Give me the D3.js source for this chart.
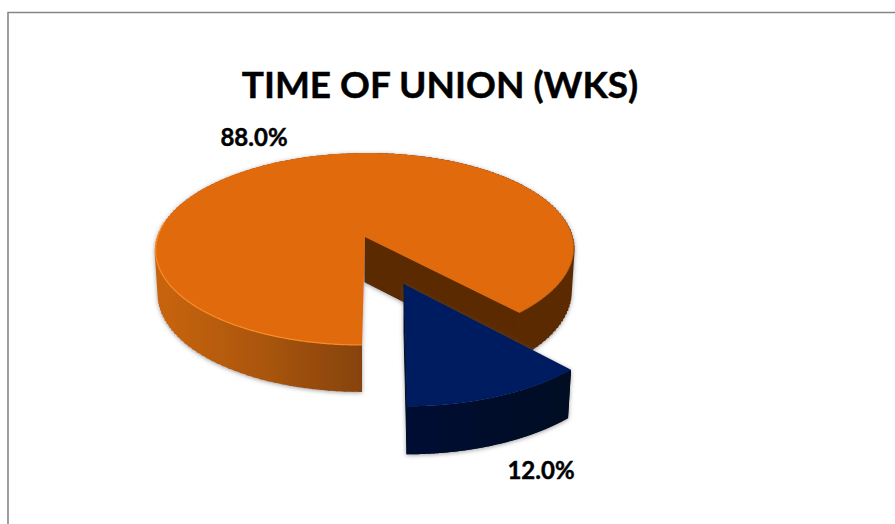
<!DOCTYPE html>
<html>
<head>
<meta charset="utf-8">
<script src="https://cdn.jsdelivr.net/npm/d3@7/dist/d3.min.js"></script>
<style>
  html, body { margin: 0; padding: 0; background: #fff; }
  svg { display: block; }
  text { font-family: Lato, "Open Sans", sans-serif; font-weight: 700; fill: #000; stroke: #000; stroke-width: 0.45; }
</style>
</head>
<body>
<svg id="chart" width="895" height="524"></svg>
<script>
// Share of unions by duration, drawn as an exploded 3D pie.
const chartTitle = "TIME OF UNION (WKS)";
const sliceKeys = ["long", "short"];
const sliceValues = [88, 12];

const svg = d3.select("#chart");
const defs = svg.append("defs");

// Soft shadow shared by both slices
const shadow = defs.append("filter").attr("id", "soft")
  .attr("x", "-10%").attr("y", "-10%").attr("width", "120%").attr("height", "120%");
shadow.append("feDropShadow")
  .attr("dx", 0).attr("dy", 1).attr("stdDeviation", 2.2)
  .attr("flood-color", "#555").attr("flood-opacity", 0.55);

function sideGradient(id, stops) {
  const g = defs.append("linearGradient").attr("id", id)
    .attr("gradientUnits", "userSpaceOnUse")
    .attr("x1", 150).attr("x2", 580).attr("y1", 0).attr("y2", 0);
  stops.forEach(([x, c]) => g.append("stop")
    .attr("offset", (x - 150) / 430).attr("stop-color", c));
}
sideGradient("orangeSide", [[150, "#cb650a"], [260, "#ab5607"], [362, "#864309"],
                            [364, "#5c2c02"], [580, "#5c2c02"]]);
sideGradient("navySide", [[400, "#001033"], [480, "#000e2c"], [575, "#000a22"]]);

// Perspective projection of a unit-disc point onto the page: the disc's near
// edge is larger than its far edge, so the apex sits above the ellipse centre.
const persp = 0.125;
function projector({ x0, y0, bx, ay, shear }) {
  const project = angle => {
    const u = Math.sin(angle), v = -Math.cos(angle), w = 1 - persp * v;
    return [x0 + (bx * u + shear * v) / w, y0 + ay * v / w];
  };
  project.apex = [x0, y0];
  return project;
}

const faces = {
  long: {
    top: projector({ x0: 365, y0: 237, bx: 207.4, ay: 94.5, shear: -2.6 }),
    bottom: projector({ x0: 365, y0: 282, bx: 204.4, ay: 96.2, shear: -2.6 }),
    topFill: "#e16b08", sideFill: "url(#orangeSide)", wallFill: "#5c2c02"
  },
  short: {
    top: projector({ x0: 404, y0: 284, bx: 219, ay: 107, shear: 2.6 }),
    bottom: projector({ x0: 404, y0: 332, bx: 215, ay: 107, shear: 2.6 }),
    topFill: "#001f60", sideFill: "url(#navySide)", wallFill: "#000e2c"
  }
};

const pie = d3.pie().sort(null).startAngle(Math.PI).endAngle(3 * Math.PI);
const arcs = pie(sliceValues);
const line = d3.line();
const sweep = (a, b, project) =>
  d3.range(0, 1.0001, 1 / 160).map(t => project(a + (b - a) * t));

arcs.forEach((d, i) => {
  const f = faces[sliceKeys[i]];
  const g = svg.append("g").attr("filter", "url(#soft)");
  const topArc = sweep(d.startAngle, d.endAngle, f.top);
  const bottomArc = sweep(d.startAngle, d.endAngle, f.bottom);
  const apexTop = f.top.apex, apexBottom = f.bottom.apex;

  // Cut wall running back to the centre, seen only on the larger slice
  g.append("path")
    .attr("d", line([apexTop, topArc[topArc.length - 1], bottomArc[bottomArc.length - 1], apexBottom]) + "Z")
    .attr("fill", f.wallFill)
    .attr("stroke", f.wallFill).attr("stroke-width", 1);

  // Outer rim of the slice
  g.append("path")
    .attr("d", line(topArc.concat(bottomArc.slice().reverse())) + "Z")
    .attr("fill", f.sideFill);

  // Generator lines fill the silhouette where the rim turns out of view
  const inset = 0.006;
  const ruleTop = sweep(d.startAngle + inset, d.endAngle - inset, f.top);
  const ruleBottom = sweep(d.startAngle + inset, d.endAngle - inset, f.bottom);
  g.append("path")
    .attr("d", ruleTop.map((p, k) => line([p, ruleBottom[k]])).join(""))
    .attr("fill", "none").attr("stroke", f.sideFill).attr("stroke-width", 2);

  // Flat top of the slice
  g.append("path")
    .attr("d", line([apexTop].concat(topArc)) + "Z")
    .attr("fill", f.topFill);

  if (i === 0) {
    // Bevel highlights along the rim of the orange top
    g.append("path")
      .attr("d", line(sweep(d.startAngle, d.startAngle + Math.PI * 0.55, f.top)))
      .attr("fill", "none").attr("stroke", "#f98c2a").attr("stroke-width", 1.2);
    g.append("path")
      .attr("d", line(sweep(d.endAngle - Math.PI * 0.3, d.endAngle, f.top)))
      .attr("fill", "none").attr("stroke", "#b85c08").attr("stroke-width", 1);
  }
});

// Chart frame: top and left edges only
svg.append("path")
  .attr("d", "M895,12.5H8V524")
  .attr("fill", "none").attr("stroke", "#868686").attr("stroke-width", 1.6);

svg.append("text")
  .attr("x", 440).attr("y", 98)
  .attr("text-anchor", "middle").attr("font-size", 37)
  .text(chartTitle);

const pct = d3.format(".1%");
const labelAt = [[254, 146], [541, 479]];
arcs.forEach((d, i) => {
  svg.append("text")
    .attr("x", labelAt[i][0]).attr("y", labelAt[i][1])
    .attr("text-anchor", "middle").attr("font-size", 24)
    .text(pct(d.value / d3.sum(sliceValues)));
});
</script>
</body>
</html>
